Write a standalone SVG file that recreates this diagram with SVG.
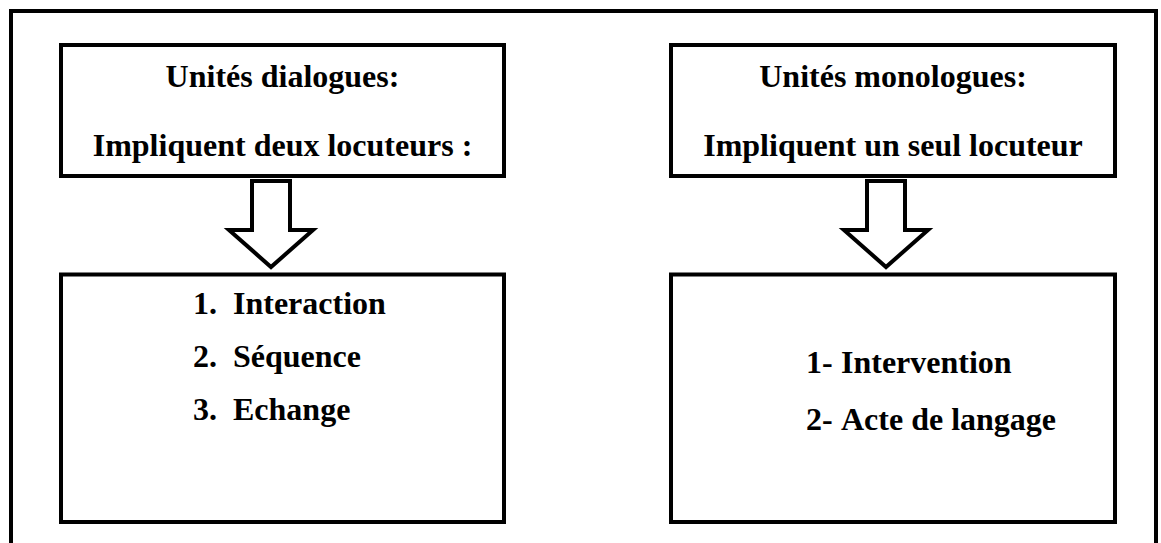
<svg xmlns="http://www.w3.org/2000/svg" width="1161" height="543" viewBox="0 0 1161 543">
<style>
.box{fill:#fff;stroke:#000;stroke-width:4}
.arr{fill:#fff;stroke:#000;stroke-width:4;stroke-linejoin:miter}
.t{font-family:"Liberation Serif","Times New Roman",serif;font-weight:bold;font-size:32px;fill:#000}
.c{text-anchor:middle}
</style>
<rect width="1161" height="543" fill="#fff"/>
<path d="M11,560 L11,11 L1156,11 L1156,560" fill="none" stroke="#000" stroke-width="4"/>
<g id="dialogues">
<rect class="box" x="61" y="45" width="443" height="131"/>
<text class="t c" x="282.5" y="87">Unités dialogues:</text>
<text class="t c" x="282.5" y="156">Impliquent deux locuteurs :</text>
</g>
<g id="monologues">
<rect class="box" x="671" y="45" width="444" height="131"/>
<text class="t c" x="893" y="87">Unités monologues:</text>
<text class="t c" x="893" y="156">Impliquent un seul locuteur</text>
</g>
<g id="liste-dialogues">
<rect class="box" x="61" y="274.5" width="443" height="247.5"/>
<text class="t" x="193" y="314">1.</text><text class="t" x="233" y="314">Interaction</text>
<text class="t" x="193" y="367">2.</text><text class="t" x="233" y="367">Séquence</text>
<text class="t" x="193" y="420">3.</text><text class="t" x="233" y="420">Echange</text>
</g>
<g id="liste-monologues">
<rect class="box" x="671" y="274.5" width="444" height="247.5"/>
<text class="t" x="806" y="373">1-</text><text class="t" x="841" y="373">Intervention</text>
<text class="t" x="806" y="430">2-</text><text class="t" x="841" y="430">Acte de langage</text>
</g>
<g id="connectors">
<polygon class="arr" points="252,181 290,181 290,230 313,230 271,267 229,230 252,230"/>
<polygon class="arr" points="867,181 905,181 905,230 928,230 886,267 844,230 867,230"/>
</g>
</svg>
